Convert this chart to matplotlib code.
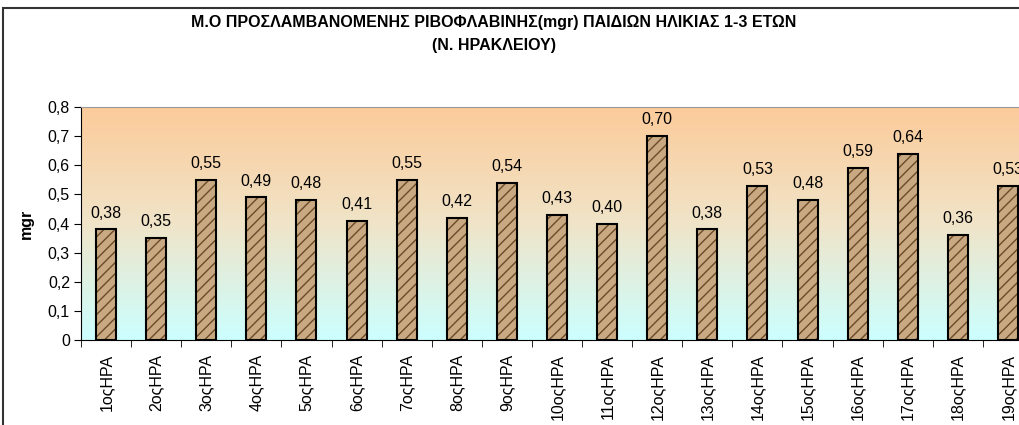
import matplotlib.pyplot as plt
import numpy as np
from matplotlib.patches import Rectangle
from matplotlib.colors import LinearSegmentedColormap

plt.rcParams['font.family'] = ['Liberation Sans', 'DejaVu Sans']

# Data
categories = [f'{i}οςΗΡΑ' for i in range(1, 20)]
values = [0.38, 0.35, 0.55, 0.49, 0.48, 0.41, 0.55, 0.42, 0.54, 0.43,
          0.40, 0.70, 0.38, 0.53, 0.48, 0.59, 0.64, 0.36, 0.53]
yticks = [0, 0.1, 0.2, 0.3, 0.4, 0.5, 0.6, 0.7, 0.8]

title = 'Μ.Ο ΠΡΟΣΛΑΜΒΑΝΟΜΕΝΗΣ ΡΙΒΟΦΛΑΒΙΝΗΣ(mgr) ΠΑΙΔΙΩΝ ΗΛΙΚΙΑΣ 1-3 ΕΤΩΝ\n(Ν. ΗΡΑΚΛΕΙΟΥ)'
fs = 11.5

fig = plt.figure(figsize=(10.19, 4.25), dpi=100)
# plot area runs past the right edge, as in the cropped original
ax = fig.add_axes([81 / 1019, 85 / 425, 952 / 1019, 233 / 425])

x = np.arange(len(values))
ax.set_xlim(-0.5, len(values) - 0.5)
ax.set_ylim(0, 0.8)

# gradient background: peach at top, light cyan at bottom
cmap = LinearSegmentedColormap.from_list('bg', ['#ccffff', '#f0e4c8', '#fccb9a'])
grad = np.linspace(0, 1, 256).reshape(-1, 1)
ax.imshow(grad, aspect='auto', cmap=cmap, origin='lower',
          extent=[-0.5, len(values) - 0.5, 0, 0.8], zorder=0)

# textured bars (approximation of the sand texture)
ax.bar(x, values, width=0.4, color='#c8a982', edgecolor='#6b4a2a',
       hatch='///', linewidth=0, zorder=2)
ax.bar(x, values, width=0.4, fill=False, edgecolor='black',
       linewidth=1.5, zorder=3)

for xi, v in zip(x, values):
    ax.text(xi, v + 0.03, f'{v:.2f}'.replace('.', ','), ha='center',
            va='bottom', fontsize=fs, zorder=4)

ax.set_yticks(yticks)
ax.set_yticklabels([('%g' % t).replace('.', ',') for t in yticks], fontsize=fs)
ax.set_xticks(x)
ax.set_xticklabels(categories, rotation=90, fontsize=fs)
ax.set_xticks(np.arange(-0.5, len(values), 1), minor=True)
ax.tick_params(axis='x', which='major', length=0, pad=10)
ax.tick_params(axis='x', which='minor', length=5, direction='out')
ax.tick_params(axis='y', length=5, direction='out', pad=3)

ax.spines['top'].set_color('#999999')
ax.spines['right'].set_visible(False)
ax.spines['left'].set_color('black')
ax.spines['bottom'].set_color('black')

ax.set_ylabel('mgr', fontsize=fs, fontweight='bold', labelpad=10)

fig.text(494 / 1019, 1 - 34 / 425, title, ha='center', va='center',
         fontsize=fs, fontweight='bold', linespacing=1.6)

# outer chart border (cropped on right and bottom)
fig.add_artist(Rectangle((3 / 1019, -0.1), 1.2, 1.1 - 8 / 425,
                         transform=fig.transFigure, fill=False,
                         edgecolor='#333333', linewidth=1.5))

fig.savefig('out.png', dpi=100)
